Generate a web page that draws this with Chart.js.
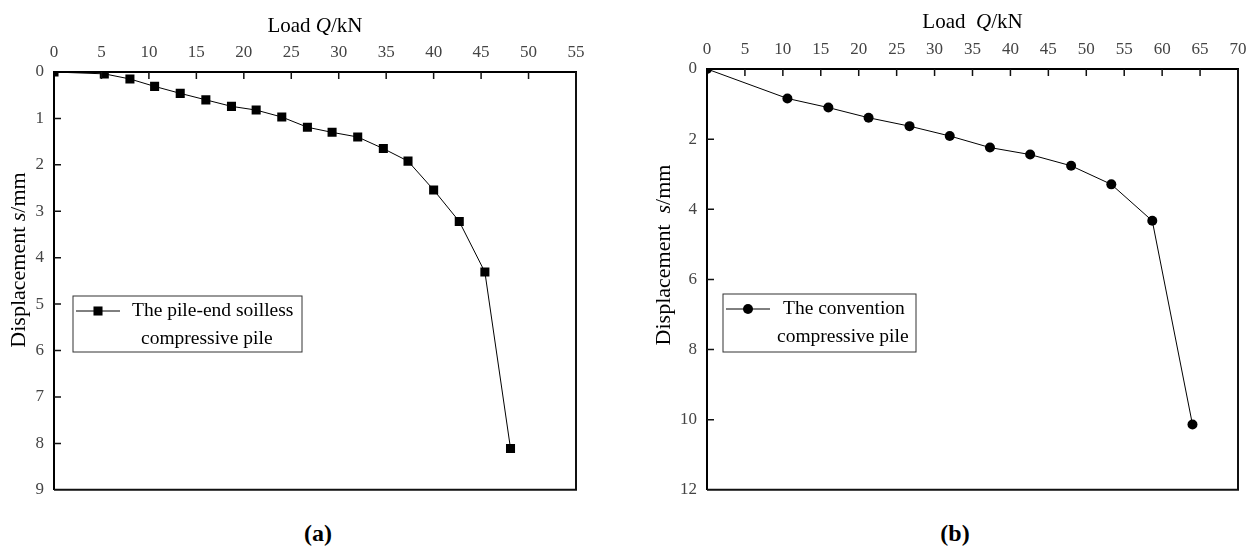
<!DOCTYPE html>
<html>
<head>
<meta charset="utf-8">
<script src="https://cdn.jsdelivr.net/npm/chart.js@4/dist/chart.umd.min.js"></script>
<style>
  body { margin: 0; background: #fff; width: 1256px; height: 558px; position: relative; overflow: hidden; }
  canvas { position: absolute; top: 0; }
  .cap { position: absolute; top: 520px; font: bold 24px "Liberation Serif", serif; color: #000; transform: translateX(-50%); }
</style>
</head>
<body>
<canvas id="ca" width="628" height="510" style="left:0"></canvas>
<canvas id="cb" width="616" height="510" style="left:640px"></canvas>
<div class="cap" style="left:318px">(a)</div>
<div class="cap" style="left:955px">(b)</div>
<script>
// load Q (kN) vs displacement s (mm)
const loadA = [0, 5.3, 8.0, 10.6, 13.3, 16.0, 18.7, 21.3, 24.0, 26.7, 29.3, 32.0, 34.7, 37.3, 40.0, 42.7, 45.4, 48.1];
const dispA = [0, 0.04, 0.15, 0.31, 0.46, 0.60, 0.74, 0.82, 0.97, 1.19, 1.30, 1.40, 1.65, 1.92, 2.54, 3.22, 4.31, 8.11];
const loadB = [0, 10.6, 16.0, 21.3, 26.7, 32.0, 37.3, 42.6, 48.0, 53.3, 58.7, 64.0];
const dispB = [0, 0.84, 1.10, 1.39, 1.63, 1.91, 2.24, 2.44, 2.76, 3.29, 4.33, 10.14];

const legendA = ["The pile-end soilless", "compressive pile"];
const legendB = ["The convention", "compressive pile"];

const SERIF = '"Liberation Serif", "Times New Roman", serif';

function richText(ctx, parts, cx, cy, size, rot) {
    ctx.save();
    ctx.translate(cx, cy);
    if (rot) ctx.rotate(-Math.PI / 2);
    let w = 0;
    parts.forEach(p => {
        ctx.font = (p[1] ? 'italic ' : '') + size + 'px ' + SERIF;
        w += ctx.measureText(p[0]).width;
    });
    let x = -w / 2;
    ctx.fillStyle = '#000';
    ctx.textBaseline = 'middle';
    parts.forEach(p => {
        ctx.font = (p[1] ? 'italic ' : '') + size + 'px ' + SERIF;
        ctx.fillText(p[0], x, 0);
        x += ctx.measureText(p[0]).width;
    });
    ctx.restore();
}

function decor(o) {
    return {
        id: 'decor',
        afterDraw(chart) {
            const ctx = chart.ctx, a = chart.chartArea;
            const x = chart.scales.x, y = chart.scales.y;
            ctx.save();
            ctx.strokeStyle = '#111';
            ctx.lineWidth = 2;
            ctx.beginPath();
            ctx.moveTo(a.right, a.top);
            ctx.lineTo(a.right, a.bottom);
            ctx.lineTo(a.left, a.bottom);
            ctx.stroke();
            // inward ticks
            ctx.lineWidth = 1.5;
            ctx.beginPath();
            x.ticks.forEach((t, i) => {
                const px = x.getPixelForTick(i);
                if (px > a.left + 2 && px < a.right - 2) { ctx.moveTo(px, a.top); ctx.lineTo(px, a.top + 7); }
            });
            y.ticks.forEach((t, i) => {
                const py = y.getPixelForTick(i);
                if (py > a.top + 2 && py < a.bottom - 2) { ctx.moveTo(a.left, py); ctx.lineTo(a.left + 7, py); }
            });
            ctx.stroke();
            ctx.restore();

            const cx = (a.left + a.right) / 2;
            richText(ctx, [['Load' + o.gap, false], ['Q', true], ['/kN', false]], cx, o.xTitleY, 21, false);
            richText(ctx, [['Displacement' + o.gap, false], ['s', true], ['/mm', false]], o.yTitleX, o.yTitleY, 22, true);

            // legend box
            const L = o.legend;
            ctx.save();
            ctx.strokeStyle = '#333';
            ctx.lineWidth = 1;
            ctx.strokeRect(L.x, L.y, L.w, L.h);
            const ds = chart.data.datasets[0];
            ctx.strokeStyle = '#000';
            ctx.beginPath();
            ctx.moveTo(L.x + 3, L.y + 15);
            ctx.lineTo(L.x + 47, L.y + 15);
            ctx.stroke();
            ctx.fillStyle = '#000';
            Chart.helpers.drawPoint(ctx, {
                pointStyle: ds.pointStyle, radius: ds.pointRadius, borderWidth: 0
            }, L.x + 25, L.y + 15);
            ctx.font = '19.5px ' + SERIF;
            ctx.textBaseline = 'middle';
            ctx.textAlign = 'left';
            ctx.fillText(o.legendText[0], L.t1, L.y + 15);
            ctx.fillText(o.legendText[1], L.t2, L.y + 43);
            ctx.restore();
        }
    };
}

function makeChart(id, load, disp, style, radius, xMax, yMax, yStep, sz, o) {
    new Chart(document.getElementById(id), {
        type: 'scatter',
        data: {
            datasets: [{
                data: load.map((q, i) => ({ x: q, y: disp[i] })),
                showLine: true,
                borderColor: '#000',
                borderWidth: 1,
                pointStyle: style,
                pointRadius: radius,
                pointBackgroundColor: '#000',
                pointBorderWidth: 0,
                clip: 0
            }]
        },
        options: {
            responsive: false,
            animation: false,
            devicePixelRatio: 1,
            layout: { padding: { left: 0, top: 0, right: sz.right, bottom: sz.bottom } },
            plugins: { legend: { display: false }, tooltip: { enabled: false } },
            scales: {
                x: {
                    type: 'linear', position: 'top', min: 0, max: xMax,
                    ticks: { stepSize: 5, padding: 9, color: '#444', font: { family: SERIF, size: 17 } },
                    grid: { drawOnChartArea: false, drawTicks: false },
                    border: { display: true, width: 2, color: '#000' },
                    afterFit(s) { s.height = sz.top; }
                },
                y: {
                    type: 'linear', reverse: true, min: 0, max: yMax,
                    ticks: { stepSize: yStep, padding: 10, color: '#444', font: { family: SERIF, size: 17 } },
                    grid: { drawOnChartArea: false, drawTicks: false },
                    border: { display: true, width: 2, color: '#000' },
                    afterFit(s) { s.width = sz.left; }
                }
            }
        },
        plugins: [decor(o)]
    });
}

makeChart('ca', loadA, dispA, 'rect', 6.4, 55, 9, 1,
    { left: 54, top: 72, right: 52, bottom: 19 },
    { gap: ' ', xTitleY: 26, yTitleX: 19, yTitleY: 260, legendText: legendA,
      legend: { x: 73, y: 296, w: 229, h: 56, t1: 132, t2: 141 } });

makeChart('cb', loadB, dispB, 'circle', 5, 70, 12, 2,
    { left: 67, top: 69, right: 18, bottom: 15 },
    { gap: '  ', xTitleY: 22, yTitleX: 24, yTitleY: 255, legendText: legendB,
      legend: { x: 83, y: 294, w: 193, h: 58, t1: 143, t2: 137 } });
</script>
</body>
</html>
